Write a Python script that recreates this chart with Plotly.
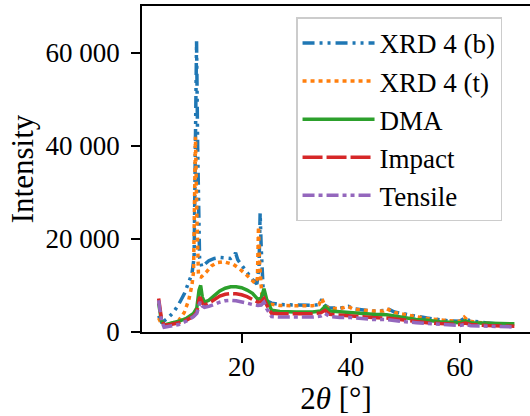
import plotly.graph_objects as go

# ---- data ----
xrd4b_x = [4.8, 5.3, 5.8, 6.5, 7.5, 8.5, 9.5, 10.3, 10.9, 11.3, 11.6, 11.75, 11.95, 12.3, 12.7,
           14.0, 15.0, 16.0, 17.0, 18.0, 18.5, 18.9, 19.3, 20.0, 21.0, 22.0, 22.8, 23.2, 23.4,
           23.6, 24.0, 24.6, 25.5, 27.0, 29.0, 31.0, 33.0, 34.2, 34.7, 35.2, 36.0, 38.0, 39.6,
           40.5, 42.0, 44.0, 46.0, 46.8, 48.0, 50.0, 52.0, 54.0, 56.0, 58.0, 60.0, 61.0, 61.8,
           63.0, 65.0, 67.0, 69.0, 70.0]
xrd4b_y = [3500, 2200, 2400, 3000, 4200, 6000, 8200, 10500, 12500, 16000, 45000, 62400, 40000, 16000, 14000,
           15300, 15800, 16000, 15900, 15800, 16200, 17000, 15500, 14500, 12800, 11300, 10300, 14000, 25500,
           18000, 8000, 6700, 6200, 5900, 5800, 5700, 5700, 5900, 7000, 5800, 5200, 5100, 5500,
           5000, 4800, 4500, 4600, 5000, 4300, 3800, 3400, 3000, 2700, 2400, 2300, 3100, 2400,
           2200, 1900, 1700, 1500, 1450]

xrd4t_x = [4.8, 5.3, 5.8, 6.5, 7.5, 8.5, 9.5, 10.3, 10.9, 11.2, 11.4, 11.55, 11.8, 12.1, 12.6,
           13.5, 14.5, 15.5, 16.7, 17.5, 18.5, 19.5, 20.5, 21.6, 22.5, 22.9, 23.1, 23.3, 23.7,
           24.3, 25.2, 27.0, 29.0, 31.0, 33.0, 34.2, 34.7, 35.3, 36.0, 38.0, 39.5, 40.5, 42.0,
           44.0, 46.0, 46.6, 48.0, 50.0, 52.0, 54.0, 56.0, 58.0, 60.0, 60.8, 61.5, 63.0, 65.0,
           67.0, 69.0, 70.0]
xrd4t_y = [3000, 1800, 1500, 1600, 2000, 2500, 4200, 6800, 10000, 13000, 30000, 41900, 25000, 12000, 11800,
           12800, 14200, 14900, 15100, 14900, 14500, 13700, 12700, 11500, 10400, 11500, 22600, 15000, 8000,
           6500, 6000, 5700, 5650, 5600, 5650, 5900, 7200, 5600, 5100, 5000, 5500, 4900, 4700,
           4500, 4500, 5000, 4200, 3700, 3300, 2900, 2600, 2400, 2300, 3200, 2400, 2100, 1900,
           1700, 1500, 1450]

dma_x = [4.8, 5.3, 5.8, 7.0, 8.5, 10.0, 11.2, 11.8, 12.2, 12.5, 12.8, 13.2, 14.0, 15.0, 16.0,
         17.0, 18.0, 19.0, 20.0, 21.0, 22.0, 23.0, 23.6, 24.1, 24.6, 25.5, 27.0, 30.0, 33.0,
         34.5, 35.3, 36.2, 38.0, 40.0, 42.0, 44.0, 46.6, 48.0, 50.0, 52.0, 54.0, 56.4, 60.0,
         61.0, 62.0, 65.0, 67.5, 70.0]
dma_y = [6200, 2500, 1500, 1800, 2300, 3000, 4000, 5200, 9000, 10000, 7500, 6400, 6800, 7800, 8800,
         9400, 9700, 9700, 9500, 9000, 8300, 7000, 7300, 9300, 7000, 4700, 4400, 4300, 4300,
         4500, 5500, 4500, 4300, 4200, 4000, 3800, 3700, 3400, 3000, 2700, 2500, 2200, 2000,
         2400, 2000, 1900, 1800, 1750]

impact_x = [4.8, 5.3, 5.8, 7.0, 8.5, 10.0, 11.2, 11.8, 12.2, 12.4, 12.8, 13.2, 14.0, 15.0, 16.0,
            17.0, 18.0, 19.0, 20.0, 21.0, 22.0, 23.0, 23.6, 24.1, 24.6, 25.5, 27.0, 30.0, 33.0,
            34.5, 35.3, 36.2, 38.0, 40.0, 42.0, 44.0, 46.6, 48.0, 50.0, 52.0, 54.0, 56.4, 60.0,
            61.0, 62.0, 65.0, 67.5, 70.0]
impact_y = [7200, 3000, 1450, 1600, 2000, 2600, 3400, 4300, 7000, 7500, 6200, 5800, 6200, 7000, 7700,
            8100, 8250, 8200, 8000, 7600, 7000, 6400, 6500, 7200, 5800, 4000, 3900, 3900, 3900,
            4100, 4650, 3800, 3600, 3500, 3300, 3100, 3000, 2800, 2500, 2200, 2000, 1800, 1600,
            1900, 1600, 1400, 1300, 1230]

tensile_x = [4.8, 5.3, 5.8, 7.0, 8.5, 10.0, 11.2, 11.8, 12.2, 12.4, 12.8, 13.2, 14.0, 15.0, 16.0,
             17.0, 18.0, 19.0, 20.0, 21.0, 22.0, 23.0, 23.6, 24.1, 24.6, 25.5, 27.0, 30.0, 33.0,
             34.5, 35.3, 36.2, 38.0, 40.0, 42.0, 44.0, 46.6, 48.0, 50.0, 52.0, 54.0, 56.4, 60.0,
             61.0, 62.0, 65.0, 67.5, 70.0]
tensile_y = [6800, 2500, 1000, 1200, 1600, 2400, 3300, 4000, 6000, 6450, 5600, 5300, 5500, 6000, 6400,
             6700, 6800, 6700, 6500, 6200, 5900, 5700, 5800, 6400, 5000, 3300, 3200, 3200, 3200,
             3400, 3950, 3300, 3100, 3100, 2900, 2700, 2650, 2400, 2200, 2000, 1800, 1650, 1400,
             1600, 1350, 1200, 1100, 1080]

y_tickvals = [0, 20000, 40000, 60000]
y_ticktext = ["0", "20 000", "40 000", "60 000"]
x_tickvals = [20, 40, 60]

FONT = "Liberation Serif"
W = 3.5

series = [
    ("XRD 4 (b)", xrd4b_x, xrd4b_y, "#1f77b4", "12px,5px,3px,5px,3px,5px"),
    ("XRD 4 (t)", xrd4t_x, xrd4t_y, "#ff7f0e", "4px,4px"),
    ("DMA", dma_x, dma_y, "#2ca02c", "solid"),
    ("Impact", impact_x, impact_y, "#d62728", "20px,4px"),
    ("Tensile", tensile_x, tensile_y, "#9467bd", "12px,4px,4px,4px,12px,4px,4px,4px,4px,4px"),
]

fig = go.Figure()
for name, xs, ys, col, dash in series:
    fig.add_trace(go.Scatter(x=xs, y=ys, mode="lines", name=name,
                             line=dict(color=col, width=W, dash=dash)))

fig.update_layout(
    width=530, height=416,
    margin=dict(l=142, r=0, t=6, b=84, autoexpand=False),
    paper_bgcolor="white", plot_bgcolor="white",
    font=dict(family=FONT, size=26, color="black"),
    showlegend=True,
    legend=dict(x=0.397, y=0.965, xanchor="left", yanchor="top",
                bgcolor="white", bordercolor="#cccccc", borderwidth=1.5,
                font=dict(family=FONT, size=27), itemwidth=72, tracegroupgap=0),
)
fig.update_xaxes(range=[1.75, 72.86], tickvals=x_tickvals, ticks="outside", ticklen=9,
                 tickwidth=1.5, tickcolor="black", showline=True, linecolor="black",
                 linewidth=1.6, mirror=True, showgrid=False, zeroline=False, automargin=False,
                 ticklabelstandoff=1,
                 title=dict(text="2<i>θ</i> [°]", standoff=8),
                 tickfont=dict(family=FONT, size=27))
fig.update_yaxes(range=[0, 70000], tickvals=y_tickvals, ticktext=y_ticktext, ticks="outside",
                 ticklen=9, tickwidth=1.5, tickcolor="black", showline=True, linecolor="black",
                 linewidth=1.6, mirror=False, showgrid=False, zeroline=False, automargin=False,
                 ticklabelstandoff=6,
                 title=dict(text="Intensity", standoff=3),
                 tickfont=dict(family=FONT, size=27))

fig.write_html("out.html", config={"displayModeBar": False},
               post_script="document.body.style.margin='0';document.body.style.overflow='hidden';")
